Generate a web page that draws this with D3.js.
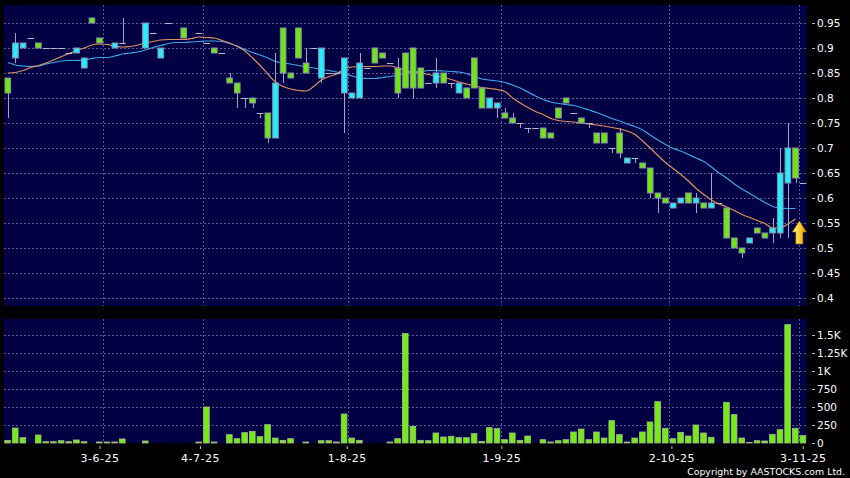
<!DOCTYPE html>
<html>
<head>
<meta charset="utf-8">
<script src="https://cdnjs.cloudflare.com/ajax/libs/d3/7.8.5/d3.min.js"></script>
<style>
body { margin: 0; background: #000; }
text { font-family: "DejaVu Sans", Verdana, sans-serif; fill: #fff; }
</style>
</head>
<body>
<div id="visualization"></div>
<script>
// Daily candles, one slot per trading day (null = nothing drawn that day)
var openP  = [0.84,0.88,0.90,0.92,0.91,0.90,0.90,0.90,0.89,0.89, 0.86,0.96,0.92,null,0.90,0.91,null,null,0.90,0.93,
              0.88,0.95,null,0.94,null,0.93,0.91,0.90,0.89,0.84, 0.83,0.80,0.80,0.77,0.77,0.72,0.94,0.85,0.94,0.87,
              0.90,0.84,0.85,0.85,0.81,0.80,0.80,0.86,0.90,0.89, 0.87,0.86,0.89,0.90,0.86,0.83,0.83,0.85,0.83,0.81,
              0.82,0.88,0.82,0.78,0.78,0.77,0.76,0.75,0.74,0.74, 0.74,0.73,0.78,0.80,0.77,0.76,0.75,0.73,0.73,0.70,
              0.73,0.67,0.68,0.67,0.66,0.61,0.60,0.58,0.59,0.61, 0.59,0.59,0.58,0.59,0.58,0.52,0.50,0.51,0.54,0.53,
              0.53,0.53,0.63,0.70,0.63];
var highP  = [0.84,0.93,0.91,0.92,0.91,0.90,0.90,0.90,0.89,0.90, 0.88,0.96,0.92,null,0.91,0.96,null,null,0.95,0.93,
              0.90,0.95,null,0.94,null,0.93,0.91,0.90,0.89,0.85, 0.83,0.80,0.80,0.77,0.77,0.89,0.94,0.85,0.94,0.90,
              0.90,0.90,0.85,0.85,0.88,0.81,0.89,0.86,0.90,0.89, 0.87,0.88,0.89,0.90,0.86,0.83,0.88,0.85,0.83,0.83,
              0.82,0.88,0.82,0.80,0.79,0.78,0.77,0.75,0.74,0.74, 0.74,0.73,0.78,0.80,0.77,0.76,0.75,0.73,0.73,0.70,
              0.74,0.68,0.68,0.67,0.66,0.61,0.60,0.59,0.60,0.61, 0.61,0.59,0.65,0.59,0.58,0.52,0.50,0.52,0.54,0.53,
              0.56,0.70,0.75,0.70,0.63];
var lowP   = [0.76,0.87,0.90,0.92,0.90,0.90,0.90,0.90,0.89,0.89, 0.86,0.95,0.91,null,0.90,0.91,null,null,0.90,0.93,
              0.88,0.95,null,0.92,null,0.93,0.91,0.89,0.89,0.83, 0.78,0.78,0.78,0.76,0.71,0.72,0.83,0.84,0.88,0.85,
              0.90,0.83,0.85,0.85,0.73,0.80,0.80,0.86,0.87,0.88, 0.87,0.80,0.82,0.80,0.82,0.83,0.82,0.83,0.82,0.81,
              0.80,0.82,0.78,0.78,0.76,0.76,0.75,0.74,0.73,0.74, 0.72,0.72,0.76,0.79,0.77,0.75,0.74,0.71,0.71,0.69,
              0.68,0.67,0.67,0.66,0.60,0.57,0.59,0.58,0.59,0.59, 0.57,0.58,0.58,0.59,0.52,0.50,0.48,0.51,0.53,0.52,
              0.51,0.52,0.52,0.63,0.63];
var closeP = [0.81,0.91,0.91,0.92,0.90,0.90,0.90,0.90,0.89,0.90, 0.88,0.95,0.91,null,0.91,0.91,null,null,0.95,0.93,
              0.90,0.95,null,0.92,null,0.93,0.91,0.89,0.89,0.83, 0.81,0.80,0.79,0.77,0.72,0.83,0.85,0.84,0.88,0.85,
              0.90,0.90,0.85,0.85,0.88,0.81,0.87,0.86,0.87,0.88, 0.87,0.81,0.82,0.82,0.82,0.83,0.85,0.83,0.83,0.83,
              0.80,0.82,0.78,0.80,0.79,0.76,0.75,0.75,0.74,0.74, 0.72,0.72,0.76,0.79,0.77,0.75,0.75,0.71,0.71,0.70,
              0.69,0.68,0.68,0.66,0.61,0.60,0.59,0.59,0.60,0.59, 0.60,0.58,0.59,0.59,0.52,0.50,0.49,0.52,0.53,0.52,
              0.54,0.65,0.70,0.64,0.63];
var volume = [37,208,74,0,111,18,18,32,18,42, 18,0,14,14,14,56,0,0,28,0,
              0,0,0,0,0,14,500,14,0,116, 60,144,162,88,255,69,37,60,0,14,
              0,32,32,14,403,69,37,0,0,0, 14,60,1520,231,37,32,139,83,93,74,
              74,130,23,213,199,46,139,37,97,0, 46,14,32,46,153,194,46,153,69,310,
              116,14,69,153,292,574,204,60,148,97, 250,139,79,0,565,394,69,8,32,28,
              120,185,1644,204,102];

// moving averages (orange = short, blue = long)
var maShort = [0.850,0.851,0.855,0.861,0.865,0.870,0.876,0.883,0.889,0.895, 0.900,0.906,0.908,0.907,0.904,0.902,0.903,0.906,0.910,0.913,
               0.916,0.917,0.917,0.917,0.919,0.922,0.921,0.920,0.915,0.910, 0.903,0.894,0.880,0.865,0.848,0.832,0.823,0.818,0.815,0.814,
               0.823,0.836,0.843,0.848,0.858,0.862,0.863,0.863,0.863,0.864, 0.864,0.860,0.855,0.852,0.850,0.847,0.844,0.841,0.837,0.832,
               0.828,0.824,0.821,0.819,0.817,0.813,0.800,0.790,0.781,0.773, 0.767,0.759,0.755,0.753,0.752,0.750,0.748,0.746,0.744,0.741,
               0.738,0.734,0.727,0.714,0.700,0.685,0.671,0.659,0.647,0.634, 0.619,0.607,0.596,0.588,0.582,0.575,0.567,0.561,0.555,0.549,
               0.540,0.540,0.548,0.558];
var maLong  = [0.871,0.866,0.864,0.863,0.864,0.868,0.871,0.874,0.875,0.875, 0.876,0.879,0.881,0.881,0.884,0.888,0.890,0.892,0.896,0.901,
               0.905,0.909,0.911,0.911,0.912,0.913,0.914,0.914,0.913,0.909, 0.904,0.897,0.891,0.886,0.880,0.873,0.870,0.868,0.865,0.862,
               0.860,0.857,0.855,0.852,0.849,0.844,0.840,0.839,0.839,0.841, 0.843,0.846,0.849,0.852,0.853,0.855,0.855,0.854,0.853,0.852,
               0.849,0.843,0.838,0.836,0.834,0.831,0.826,0.820,0.812,0.804, 0.797,0.792,0.789,0.787,0.785,0.781,0.776,0.771,0.765,0.759,
               0.754,0.748,0.743,0.736,0.726,0.716,0.707,0.699,0.694,0.687, 0.680,0.673,0.662,0.650,0.640,0.628,0.618,0.609,0.600,0.591,
               0.583,0.580,0.579,0.579];

var dateLabels = ["3-6-25", "4-7-25", "1-8-25", "1-9-25", "2-10-25", "3-11-25"];
var dateSlots  = [13, 26, 45, 65, 87, 104];
var priceTicks = [0.4, 0.45, 0.5, 0.55, 0.6, 0.65, 0.7, 0.75, 0.8, 0.85, 0.9, 0.95];
var volTicks      = [0, 250, 500, 750, 1000, 1250, 1500];
var volTickLabels = ["0", "250", "500", "750", "1K", "1.25K", "1.5K"];

var W = 850, H = 478;
var plotLeft = 4, plotRight = 807;
var mainTop = 5, mainBottom = 306;
var volTop = 319, volBottom = 443;

var nSlots = openP.length;
var x = d3.scaleLinear().domain([0, nSlots]).range([plotLeft, plotRight]);
// the date labels sit on a slightly wider scale than the grid
var xLab = d3.scaleLinear().domain([0, nSlots]).range([plotLeft - 4.5, plotRight + 4]);
var y = d3.scaleLinear().domain([0.384, 0.986]).range([mainBottom, mainTop]);
var yv = d3.scaleLinear().domain([0, 1722]).range([volBottom, volTop]);
var step = x(1) - x(0);

var svgContainer = d3.select("#visualization").append("svg")
    .attr("width", W)
    .attr("height", H);

svgContainer.append("rect").attr("width", W).attr("height", H).attr("fill", "#000");

var defs = svgContainer.append("defs");
var grad = defs.append("linearGradient").attr("id", "arrowGrad")
    .attr("x1", 0).attr("y1", 0).attr("x2", 1).attr("y2", 0);
grad.append("stop").attr("offset", "0%").attr("stop-color", "#fff2a0");
grad.append("stop").attr("offset", "55%").attr("stop-color", "#ffcc22");
grad.append("stop").attr("offset", "100%").attr("stop-color", "#c98a00");

// panel backgrounds
svgContainer.append("rect")
    .attr("x", plotLeft).attr("y", mainTop)
    .attr("width", plotRight - plotLeft).attr("height", mainBottom - mainTop)
    .attr("fill", "#000042");
svgContainer.append("rect")
    .attr("x", plotLeft).attr("y", volTop)
    .attr("width", plotRight - plotLeft).attr("height", volBottom - volTop)
    .attr("fill", "#000042");

var gridColor = "#5a5a96";

// horizontal grid, price panel
priceTicks.forEach(function(t) {
    svgContainer.append("line")
        .attr("x1", plotLeft).attr("x2", plotRight)
        .attr("y1", Math.round(y(t)) + 0.5).attr("y2", Math.round(y(t)) + 0.5)
        .attr("stroke", gridColor).attr("stroke-dasharray", "2,2");
});
// horizontal grid, volume panel (skip the zero line, it is the bottom edge)
volTicks.slice(1).forEach(function(t) {
    svgContainer.append("line")
        .attr("x1", plotLeft).attr("x2", plotRight)
        .attr("y1", Math.round(yv(t)) + 0.5).attr("y2", Math.round(yv(t)) + 0.5)
        .attr("stroke", gridColor).attr("stroke-dasharray", "2,2");
});
// vertical grid in both panels
dateSlots.forEach(function(s) {
    var gx = Math.round(x(s)) + 0.5;
    [[mainTop, mainBottom], [volTop, volBottom]].forEach(function(p) {
        svgContainer.append("line")
            .attr("x1", gx).attr("x2", gx)
            .attr("y1", p[0]).attr("y2", p[1])
            .attr("stroke", gridColor).attr("stroke-dasharray", "2,2");
    });
});

// moving averages
var maLine = d3.line()
    .x(function(d, i) { return x(i + 0.5); })
    .y(function(d) { return y(d); })
    .curve(d3.curveMonotoneX);
svgContainer.append("path").datum(maLong)
    .attr("d", maLine).attr("fill", "none")
    .attr("stroke", "#3fa6ea").attr("stroke-width", 1.2);
svgContainer.append("path").datum(maShort)
    .attr("d", maLine).attr("fill", "none")
    .attr("stroke", "#e0915e").attr("stroke-width", 1.2);

// candles
var upColor = "#22eeff", downColor = "#6ee614";
for (var i = 0; i < nSlots; i++) {
    if (openP[i] == null) continue;
    var cx = Math.round(x(i + 0.5)) + 0.5;
    if (highP[i] > lowP[i]) {
        svgContainer.append("line")
            .attr("x1", cx).attr("x2", cx)
            .attr("y1", y(highP[i])).attr("y2", y(lowP[i]))
            .attr("stroke", "#a4a4c0").attr("stroke-width", 1);
    }
    if (openP[i] == closeP[i]) {
        // no body: a flat dash across the slot
        var fy = Math.round(y(closeP[i])) + 0.5;
        svgContainer.append("line")
            .attr("x1", x(i) + 0.5).attr("x2", x(i + 1) - 0.5)
            .attr("y1", fy).attr("y2", fy)
            .attr("stroke", "#b8b8d0").attr("stroke-width", 1);
    } else {
        var bodyTop = y(Math.max(openP[i], closeP[i]));
        var bodyBot = y(Math.min(openP[i], closeP[i]));
        svgContainer.append("rect")
            .attr("x", x(i) + 1)
            .attr("y", bodyTop)
            .attr("width", step - 2)
            .attr("height", bodyBot - bodyTop)
            .attr("fill", closeP[i] > openP[i] ? upColor : downColor)
            .attr("stroke", "#8c8ca8").attr("stroke-width", 1);
    }
}

// volume bars
for (var j = 0; j < nSlots; j++) {
    if (!volume[j]) continue;
    svgContainer.append("rect")
        .attr("x", x(j) + 0.75)
        .attr("y", yv(volume[j]))
        .attr("width", step - 2)
        .attr("height", volBottom - yv(volume[j]))
        .attr("fill", "#74ec12")
        .attr("stroke", "#a6b894").attr("stroke-width", 0.8);
}

// arrow marking the last short average
var ax = x(nSlots - 1), ay = y(maShort[maShort.length - 1]) + 2;
svgContainer.append("path")
    .attr("d", "M" + ax + "," + ay + " l7,11 h-3.5 v12 h-7 v-12 h-3.5 z")
    .attr("fill", "url(#arrowGrad)")
    .attr("stroke", "#b07800").attr("stroke-width", 0.6);

// right axis, price
priceTicks.forEach(function(t) {
    var ty = Math.round(y(t)) + 0.5;
    svgContainer.append("line")
        .attr("x1", plotRight + 5).attr("x2", plotRight + 8)
        .attr("y1", ty).attr("y2", ty).attr("stroke", "#bbb");
    svgContainer.append("text")
        .attr("x", plotRight + 10).attr("y", ty + 3.8)
        .attr("font-size", "10.5px")
        .text(t);
});
// right axis, volume
volTicks.forEach(function(t, k) {
    var ty = Math.round(yv(t)) + 0.5;
    svgContainer.append("line")
        .attr("x1", plotRight + 5).attr("x2", plotRight + 8)
        .attr("y1", ty).attr("y2", ty).attr("stroke", "#bbb");
    svgContainer.append("text")
        .attr("x", plotRight + 10).attr("y", ty + 3.8)
        .attr("font-size", "10.5px")
        .text(volTickLabels[k]);
});

// date axis
dateSlots.forEach(function(s, k) {
    var lx = xLab(s);
    svgContainer.append("line")
        .attr("x1", lx).attr("x2", lx)
        .attr("y1", volBottom + 3).attr("y2", volBottom + 6)
        .attr("stroke", "#bbb");
    svgContainer.append("text")
        .attr("x", lx).attr("y", 462)
        .attr("text-anchor", "middle")
        .attr("font-size", "11px")
        .attr("letter-spacing", "0.5px")
        .text(dateLabels[k]);
});

svgContainer.append("text")
    .attr("x", 845).attr("y", 475)
    .attr("text-anchor", "end")
    .attr("font-size", "9.4px")
    .text("Copyright by AASTOCKS.com Ltd.");
</script>
</body>
</html>
